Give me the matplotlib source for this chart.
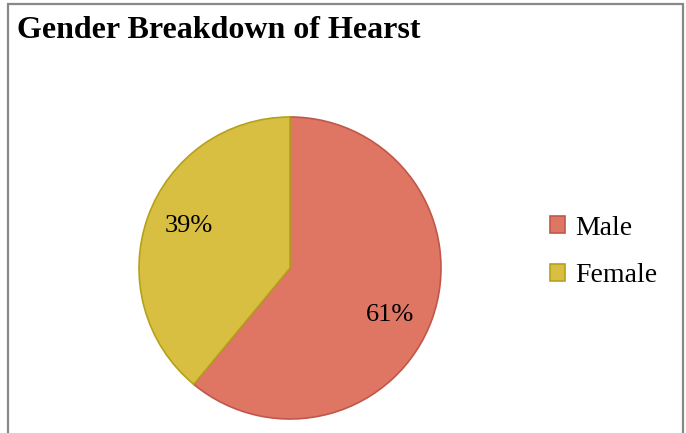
import matplotlib.pyplot as plt
from matplotlib.patches import Rectangle

labels = ['Male', 'Female']
shares = [61, 39]
face_colors = ['#DE7663', '#D8BF41']
edge_colors = ['#C0574A', '#B5A21A']

W, H = 686, 433
fig = plt.figure(figsize=(W / 100, H / 100), dpi=100)
plt.rcParams['font.family'] = ['Liberation Serif', 'DejaVu Serif']

# chart border (bottom edge is cropped off in the reference)
fig.patches.append(Rectangle((8 / W, -0.05), 675 / W, 1.05 - 4 / H, transform=fig.transFigure,
                             fill=False, edgecolor='#888888', linewidth=1.6))

fig.text(17 / W, 1 - 30 / H, 'Gender Breakdown of Hearst', fontsize=23, fontweight='bold',
         va='center', ha='left')

# pie centre and radius in pixels
cx, cy, r = 290, 268, 151
ax = fig.add_axes([(cx - r) / W, 1 - (cy + r) / H, 2 * r / W, 2 * r / H])
wedges, texts = ax.pie(shares, startangle=90, counterclock=False, colors=face_colors,
                       radius=1.0, wedgeprops=dict(linewidth=1.2))
for w, ec in zip(wedges, edge_colors):
    w.set_edgecolor(ec)
ax.set_xlim(-1, 1)
ax.set_ylim(-1, 1)
ax.set_aspect('auto')
ax.axis('off')

ax.text(0.66, -0.31, f'{shares[0]}%', fontsize=19, ha='center', va='center')
ax.text(-0.67, 0.28, f'{shares[1]}%', fontsize=19, ha='center', va='center')

leg = fig.legend(wedges, labels, loc='center left', bbox_to_anchor=(525 / W, 1 - 252 / H),
                 frameon=False, fontsize=20, handlelength=0.55, handleheight=0.55,
                 handletextpad=0.36, labelspacing=0.82)

fig.savefig('out.png', dpi=100)
